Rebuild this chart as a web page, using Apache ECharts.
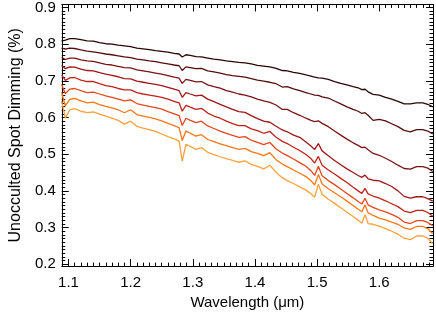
<!DOCTYPE html>
<html>
<head>
<meta charset="utf-8">
<script src="https://cdn.jsdelivr.net/npm/echarts@6/dist/echarts.min.js"></script>
<style>
html,body{margin:0;padding:0;background:#fff;}
#chart{width:436px;height:315px;}
</style>
</head>
<body>
<div id="chart"></div>
<script>
const wavelength = [1.089,1.095,1.102,1.110,1.120,1.130,1.140,1.150,1.160,1.170,1.180,1.190,1.200,1.210,1.220,1.230,1.240,1.250,1.260,1.270,1.278,1.283,1.289,1.296,1.305,1.314,1.324,1.334,1.344,1.354,1.364,1.374,1.384,1.394,1.404,1.414,1.424,1.434,1.444,1.452,1.462,1.472,1.482,1.490,1.496,1.502,1.508,1.518,1.528,1.538,1.548,1.558,1.566,1.572,1.577,1.582,1.590,1.600,1.610,1.620,1.630,1.640,1.650,1.660,1.670,1.678,1.686];

const line1 = [0.808,0.811,0.815,0.815,0.812,0.809,0.808,0.804,0.801,0.800,0.797,0.795,0.793,0.789,0.787,0.785,0.782,0.780,0.778,0.775,0.773,0.765,0.771,0.769,0.766,0.765,0.762,0.759,0.757,0.754,0.752,0.750,0.749,0.746,0.742,0.740,0.738,0.734,0.728,0.727,0.723,0.720,0.716,0.713,0.710,0.708,0.707,0.704,0.698,0.693,0.689,0.684,0.681,0.676,0.677,0.670,0.663,0.661,0.655,0.650,0.644,0.637,0.637,0.640,0.640,0.636,0.629];
const line2 = [0.789,0.786,0.789,0.788,0.784,0.781,0.779,0.776,0.773,0.771,0.768,0.765,0.763,0.759,0.757,0.754,0.752,0.749,0.746,0.743,0.741,0.728,0.738,0.736,0.733,0.734,0.727,0.724,0.721,0.717,0.714,0.712,0.710,0.706,0.702,0.699,0.696,0.692,0.683,0.684,0.678,0.673,0.668,0.664,0.661,0.660,0.656,0.653,0.645,0.637,0.629,0.622,0.617,0.611,0.613,0.606,0.592,0.595,0.591,0.583,0.575,0.565,0.561,0.567,0.567,0.563,0.555];
const line3 = [0.764,0.758,0.762,0.762,0.757,0.754,0.753,0.749,0.745,0.743,0.739,0.736,0.735,0.730,0.727,0.724,0.721,0.718,0.714,0.710,0.707,0.693,0.704,0.701,0.697,0.698,0.689,0.684,0.680,0.673,0.669,0.664,0.661,0.656,0.650,0.645,0.641,0.634,0.622,0.622,0.613,0.606,0.598,0.592,0.589,0.591,0.584,0.575,0.563,0.552,0.541,0.531,0.524,0.518,0.519,0.512,0.502,0.497,0.489,0.480,0.470,0.461,0.459,0.466,0.466,0.462,0.453];
const line4 = [0.742,0.733,0.738,0.737,0.732,0.728,0.727,0.722,0.718,0.715,0.711,0.706,0.705,0.699,0.696,0.693,0.690,0.687,0.682,0.677,0.673,0.655,0.668,0.664,0.659,0.661,0.650,0.643,0.636,0.629,0.622,0.616,0.614,0.605,0.597,0.590,0.587,0.576,0.566,0.561,0.552,0.546,0.533,0.522,0.513,0.529,0.509,0.496,0.483,0.471,0.460,0.450,0.442,0.437,0.443,0.433,0.429,0.427,0.420,0.412,0.400,0.385,0.380,0.384,0.384,0.379,0.372];
const line5 = [0.716,0.701,0.708,0.709,0.702,0.698,0.698,0.692,0.687,0.684,0.679,0.675,0.675,0.668,0.664,0.661,0.658,0.655,0.650,0.644,0.640,0.617,0.633,0.628,0.622,0.625,0.612,0.604,0.598,0.590,0.583,0.578,0.578,0.569,0.564,0.557,0.562,0.546,0.535,0.529,0.519,0.510,0.499,0.488,0.476,0.494,0.470,0.457,0.446,0.434,0.423,0.410,0.400,0.393,0.407,0.392,0.386,0.380,0.373,0.365,0.357,0.345,0.341,0.347,0.347,0.341,0.331];
const line6 = [0.690,0.665,0.677,0.679,0.673,0.668,0.669,0.664,0.659,0.655,0.650,0.645,0.648,0.638,0.634,0.630,0.627,0.623,0.616,0.610,0.605,0.578,0.598,0.592,0.586,0.590,0.577,0.570,0.563,0.557,0.551,0.546,0.548,0.538,0.532,0.526,0.532,0.514,0.503,0.496,0.487,0.477,0.467,0.455,0.442,0.467,0.441,0.428,0.417,0.405,0.393,0.381,0.371,0.364,0.380,0.362,0.355,0.348,0.343,0.336,0.328,0.315,0.311,0.319,0.319,0.314,0.305];
const line7 = [0.668,0.632,0.649,0.652,0.645,0.640,0.642,0.635,0.630,0.626,0.621,0.613,0.621,0.608,0.604,0.600,0.596,0.591,0.584,0.578,0.572,0.537,0.563,0.557,0.549,0.553,0.540,0.534,0.528,0.523,0.518,0.513,0.516,0.507,0.502,0.496,0.504,0.485,0.473,0.466,0.457,0.448,0.439,0.428,0.416,0.445,0.419,0.406,0.395,0.384,0.372,0.360,0.350,0.343,0.362,0.340,0.333,0.326,0.321,0.315,0.309,0.299,0.295,0.303,0.303,0.297,0.283];
const line8 = [0.645,0.598,0.621,0.624,0.617,0.613,0.615,0.609,0.604,0.598,0.592,0.582,0.590,0.576,0.571,0.567,0.562,0.555,0.548,0.542,0.535,0.481,0.527,0.521,0.513,0.518,0.505,0.499,0.493,0.488,0.483,0.478,0.482,0.472,0.467,0.460,0.470,0.450,0.436,0.428,0.420,0.411,0.402,0.392,0.383,0.418,0.391,0.377,0.366,0.354,0.342,0.330,0.320,0.312,0.335,0.311,0.309,0.304,0.297,0.290,0.282,0.271,0.267,0.277,0.277,0.271,0.256];

const lines = [line1, line2, line3, line4, line5, line6, line7, line8];
const lineColors = ['#2b0606','#550e0e','#7a1414','#9e1616','#c0221a','#e5461c','#ff7516','#ffa13c'];

const xMin = 1.0892, xMax = 1.6864, yMin = 0.195, yMax = 0.908;
const FONT = 'Liberation Sans, Arial, Helvetica, sans-serif';

function axisBase(pos, showLabel) {
  return {
    type: 'value',
    position: pos,
    axisLine: { show: true, onZero: false, lineStyle: { color: '#000', width: 1 } },
    axisTick: { show: true, inside: true, length: 7, lineStyle: { color: '#000', width: 1 } },
    minorTick: { show: true, splitNumber: 10, length: 3.5, lineStyle: { color: '#000', width: 1 } },
    splitLine: { show: false },
    axisLabel: {
      show: showLabel, color: '#000', fontSize: 15, fontFamily: FONT,
      showMinLabel: false, showMaxLabel: false,
      formatter: v => v.toFixed(1)
    }
  };
}

const chart = echarts.init(document.getElementById('chart'), null, { renderer: 'canvas' });
const xb = Object.assign(axisBase('bottom', true), {
  min: xMin, max: xMax,
  name: 'Wavelength (\u03bcm)', nameLocation: 'middle', nameGap: 23,
  nameTextStyle: { color: '#000', fontSize: 15, fontFamily: FONT }
});
xb.axisLabel.margin = 9;
const xt = Object.assign(axisBase('top', false), { min: xMin, max: xMax });
const yl = Object.assign(axisBase('left', true), {
  min: yMin, max: yMax,
  name: 'Unocculted Spot Dimming (%)', nameLocation: 'middle', nameGap: 30,
  nameTextStyle: { color: '#000', fontSize: 16, fontFamily: FONT }
});
yl.axisLabel.margin = 6;
const yr = Object.assign(axisBase('right', false), { min: yMin, max: yMax });

chart.setOption({
  animation: false,
  backgroundColor: '#fff',
  grid: { left: 46, right: 3, top: 4, bottom: 40, containLabel: false },
  xAxis: [xb, xt],
  yAxis: [yl, yr],
  series: lines.map((arr, i) => ({
    type: 'line',
    xAxisIndex: 0, yAxisIndex: 0,
    showSymbol: false, symbol: 'none',
    data: wavelength.map((w, j) => [w, arr[j]]),
    lineStyle: { color: lineColors[i], width: 1.3 },
    silent: true
  }))
});
</script>
</body>
</html>
